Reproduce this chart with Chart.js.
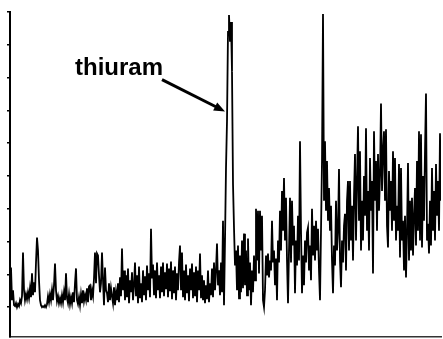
<!DOCTYPE html>
<html>
<head>
<meta charset="utf-8">
<script src="https://cdn.jsdelivr.net/npm/chart.js@4"></script>
<style>
  html, body { margin: 0; padding: 0; background: #fff; }
  #wrap { width: 443px; height: 339px; }
</style>
</head>
<body>
<div id="wrap"><canvas id="specChart" width="443" height="339"></canvas></div>
<script>
// intensity (arbitrary units), one value per channel
const intensity = [
  1, 40, 7, 17, 2, 1, 4, 0, 3, 1,
  7, 4, 11, 55, 17, 7, 13, 8, 15, 9,
  19, 10, 34, 12, 25, 15, 45, 70, 57, 27,
  7, 2, 0, 1, 0, 2, 0, 3, 11, 5,
  13, 7, 17, 7, 22, 44, 17, 6, 11, 4,
  9, 4, 12, 5, 15, 7, 34, 9, 4, 13,
  3, 10, 4, 15, 5, 24, 39, 7, 3, 10,
  2, 13, 4, 17, 6, 12, 7, 19, 5, 21,
  22, 7, 17, 11, 29, 55, 24, 54, 52, 32,
  15, 24, 55, 27, 2, 40, 17, 14, 5, 24,
  7, 19, 11, 4, 20, 2, 15, 7, 24, 5,
  30, 11, 59, 17, 37, 7, 32, 10, 39, 4,
  27, 15, 35, 7, 22, 45, 11, 32, 4, 41,
  9, 24, 5, 37, 12, 31, 7, 42, 17, 34,
  10, 79, 29, 43, 12, 37, 9, 45, 17, 32,
  9, 41, 15, 45, 11, 35, 18, 44, 10, 39,
  16, 46, 8, 37, 14, 41, 7, 34, 17, 45,
  62, 17, 55, 10, 37, 7, 43, 14, 32, 6,
  39, 17, 44, 9, 35, 11, 41, 5, 37, 17,
  54, 9, 32, 7, 27, 4, 22, 8, 37, 5,
  24, 12, 39, 10, 45, 17, 37, 64, 22, 37,
  12, 45, 15, 87, 2, 67, 140, 187, 277, 294,
  267, 287, 237, 124, 80, 42, 57, 17, 62, 9,
  52, 15, 67, 19, 74, 22, 57, 12, 69, 17,
  45, 2, 37, 15, 52, 27, 99, 47, 97, 34,
  97, 57, 92, 7, 0, 17, 52, 32, 54, 30,
  47, 37, 87, 45, 57, 22, 49, 7, 67, 45,
  97, 57, 117, 77, 130, 67, 110, 47, 4, 57,
  110, 45, 107, 62, 82, 14, 67, 42, 92, 47,
  167, 77, 14, 52, 22, 67, 45, 75, 80, 37,
  62, 27, 99, 52, 82, 47, 87, 57, 79, 37,
  7, 77, 147, 295, 107, 167, 97, 147, 87, 120,
  77, 102, 47, 14, 62, 42, 107, 57, 77, 139,
  47, 20, 67, 45, 82, 94, 37, 107, 127, 57,
  127, 67, 102, 47, 112, 154, 67, 127, 182, 87,
  157, 57, 107, 67, 132, 92, 180, 77, 117, 57,
  150, 97, 127, 34, 177, 107, 147, 77, 154, 97,
  132, 205, 117, 157, 177, 107, 179, 82, 60, 137,
  97, 127, 77, 157, 87, 150, 67, 102, 77, 144,
  50, 140, 67, 87, 37, 92, 30, 77, 145, 47,
  107, 57, 110, 52, 92, 120, 62, 147, 77, 177,
  67, 174, 60, 132, 87, 157, 215, 67, 84, 54,
  107, 62, 140, 77, 117, 67, 144, 92, 127, 77,
  175, 107
];
const channel = intensity.map((v, i) => i);
const yTicks = [0, 33, 66, 99, 132, 165, 198, 231, 264, 297];

const peakLabel = "thiuram";
const labelAt = { x: 65, y: 234 };
const arrowFrom = { x: 152, y: 229 };
const arrowTo = { x: 215, y: 197 };

const annotate = {
  id: "annotate",
  afterDatasetsDraw(chart) {
    const c = chart.ctx;
    const xs = chart.scales.x, ys = chart.scales.y;
    c.save();
    c.fillStyle = "#000";
    c.strokeStyle = "#000";
    c.font = "bold 24px 'Liberation Sans', Arial, sans-serif";
    c.textBaseline = "alphabetic";
    c.fillText(peakLabel, xs.getPixelForValue(labelAt.x), ys.getPixelForValue(labelAt.y));

    const x1 = xs.getPixelForValue(arrowFrom.x), y1 = ys.getPixelForValue(arrowFrom.y);
    const x2 = xs.getPixelForValue(arrowTo.x), y2 = ys.getPixelForValue(arrowTo.y);
    const ang = Math.atan2(y2 - y1, x2 - x1);
    c.lineWidth = 3;
    c.beginPath();
    c.moveTo(x1, y1);
    c.lineTo(x2 - 8 * Math.cos(ang), y2 - 8 * Math.sin(ang));
    c.stroke();
    c.beginPath();
    c.moveTo(x2, y2);
    c.lineTo(x2 - 11 * Math.cos(ang) + 4.5 * Math.sin(ang), y2 - 11 * Math.sin(ang) - 4.5 * Math.cos(ang));
    c.lineTo(x2 - 11 * Math.cos(ang) - 4.5 * Math.sin(ang), y2 - 11 * Math.sin(ang) + 4.5 * Math.cos(ang));
    c.closePath();
    c.fill();
    c.restore();
  }
};

const ctx = document.getElementById("specChart").getContext("2d");
const specChart = new Chart(ctx, {
  type: "line",
  data: {
    datasets: [{
      data: channel.map((x, i) => ({ x: x, y: intensity[i] })),
      borderColor: "#000",
      borderWidth: 1.8,
      pointRadius: 0,
      tension: 0,
      fill: false
    }]
  },
  options: {
    responsive: false,
    animation: false,
    layout: { padding: { left: 7, right: 2, top: 12, bottom: 2 } },
    plugins: { legend: { display: false }, tooltip: { enabled: false } },
    scales: {
      x: {
        type: "linear",
        min: 0,
        max: 431,
        ticks: { display: false },
        grid: { display: false, drawTicks: false },
        border: { display: true, color: "#333", width: 1.5, dash: [6, 2] }
      },
      y: {
        min: -30,
        max: 297,
        afterBuildTicks(scale) {
          scale.ticks = yTicks.map(v => ({ value: v }));
        },
        ticks: { display: false },
        grid: { display: true, drawOnChartArea: false, drawTicks: true, tickLength: 3, color: "#000", lineWidth: 1.5 },
        border: { display: true, color: "#000", width: 2 }
      }
    }
  },
  plugins: [annotate]
});
</script>
</body>
</html>
